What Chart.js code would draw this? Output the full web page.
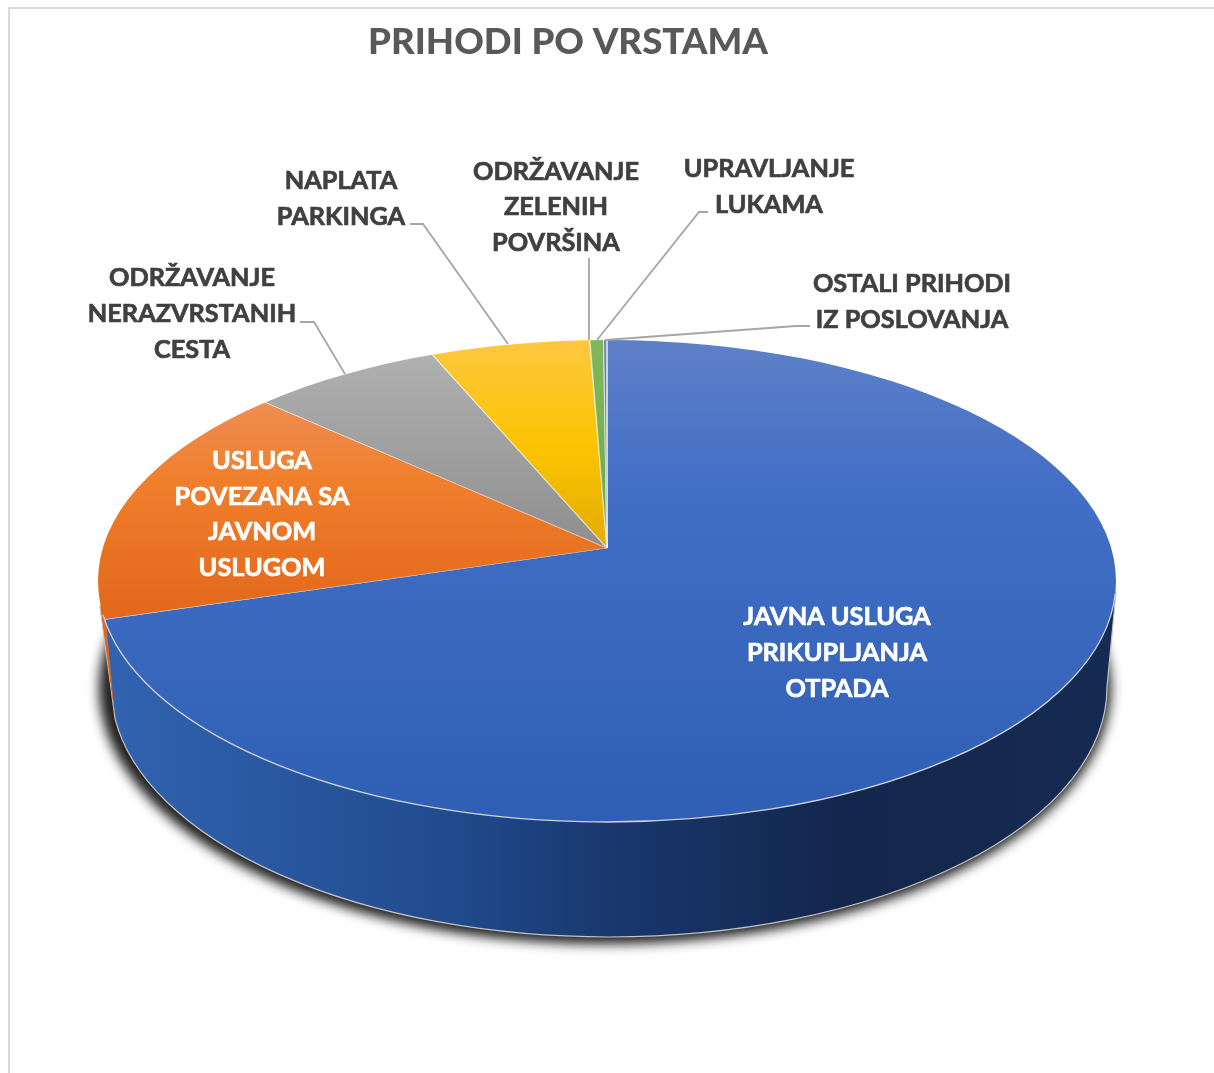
<!DOCTYPE html>
<html><head><meta charset="utf-8">
<style>html,body{margin:0;padding:0;background:#fff}canvas{display:block}</style>
<script src="https://cdn.jsdelivr.net/npm/chart.js@4"></script>
</head><body>
<canvas id="c" width="1214" height="1073"></canvas>
<script>
const titleText = 'PRIHODI PO VRSTAMA';
const categories = [
  'JAVNA USLUGA PRIKUPLJANJA OTPADA',
  'USLUGA POVEZANA SA JAVNOM USLUGOM',
  'ODRŽAVANJE NERAZVRSTANIH CESTA',
  'NAPLATA PARKINGA',
  'ODRŽAVANJE ZELENIH POVRŠINA',
  'UPRAVLJANJE LUKAMA',
  'OSTALI PRIHODI IZ POSLOVANJA'
];
const values = [70.3, 16.3, 6.9, 5.8, 0.5, 0.1, 0.02];
const labelLines = [
  ['JAVNA USLUGA','PRIKUPLJANJA','OTPADA'],
  ['USLUGA','POVEZANA SA','JAVNOM','USLUGOM'],
  ['ODRŽAVANJE','NERAZVRSTANIH','CESTA'],
  ['NAPLATA','PARKINGA'],
  ['ODRŽAVANJE','ZELENIH','POVRŠINA'],
  ['UPRAVLJANJE','LUKAMA'],
  ['OSTALI PRIHODI','IZ POSLOVANJA']
];
const sliceStops = [
  [[340,'#5f80c8'],[480,'#436fc6'],[822,'#2e5fb4']],
  [[403,'#ef8d52'],[480,'#f07f2c'],[620,'#e2671a']],
  [[355,'#b0b0b0'],[548,'#8e8e8e']],
  [[341,'#fdc740'],[445,'#fbc402'],[548,'#e2ac00']],
  [[341,'#80b75c'],[548,'#6ea844']],
  [[341,'#4a6ba8'],[548,'#264478']],
  [[341,'#3c5a94'],[548,'#1f3a68']]
];

/* Page geometry of the tilted pie */
const TOP = {x:607, y:581, rx:509, ry:241};
const BASE = {x:609, y:687, rx:498, ry:250};
const APEX = {x:607, y:548};
const SX = 1.4, SY = 1.4 * 0.473;

const labelPlace = [
  {x:837, y:[617,653,689], color:'#ffffff'},
  {x:262, y:[461,497,532,568], color:'#ffffff'},
  {x:192, y:[278,314,350], color:'#404040'},
  {x:341, y:[181,217], color:'#404040'},
  {x:556, y:[172,207,243], color:'#404040'},
  {x:769, y:[169,205], color:'#404040'},
  {x:912, y:[284,320], color:'#404040'}
];
const leaders = [
  [[300,322],[314,322],[345,374]],
  [[410,224],[423,224],[508,344]],
  [[589,258],[589,340]],
  [[708,212],[699,212],[597,340]],
  [[810,326],[796,326],[605,340]]
];

function sliceGradient(c){
  const chart = c.chart, a = chart.chartArea;
  if (!a || c.dataIndex === undefined) return '#888';
  const cy = (a.top + a.bottom) / 2;
  const stops = sliceStops[c.dataIndex];
  const y0 = stops[0][0], y1 = stops[stops.length-1][0];
  const g = chart.ctx.createLinearGradient(0, cy + (y0-APEX.y)/SY, 0, cy + (y1-APEX.y)/SY);
  stops.forEach(s => g.addColorStop((s[0]-y0)/(y1-y0), s[1]));
  return g;
}

function topEllipse(ctx){
  ctx.beginPath();
  ctx.ellipse(TOP.x, TOP.y, TOP.rx, TOP.ry, 0, 0, Math.PI*2);
}

const pie3d = {
  id:'pie3d',
  beforeDraw(chart){
    const ctx = chart.ctx;
    ctx.save();
    ctx.strokeStyle = '#d9d9d9';
    ctx.lineWidth = 2;
    ctx.beginPath();
    ctx.moveTo(9,1073); ctx.lineTo(9,8); ctx.lineTo(1214,8);
    ctx.stroke();
    ctx.restore();
  },
  beforeDatasetsDraw(chart){
    const ctx = chart.ctx, a = chart.chartArea;
    /* soft shadow of the base: the casting shape sits off the canvas */
    ctx.save();
    ctx.shadowColor = 'rgba(20,20,20,0.95)';
    ctx.shadowBlur = 12;
    ctx.shadowOffsetX = 3000;
    ctx.shadowOffsetY = 0;
    ctx.fillStyle = '#000';
    ctx.beginPath();
    ctx.ellipse(605-3000, 688, 506, 256, 0, 0, Math.PI*2);
    ctx.fill();
    ctx.restore();
    /* side wall */
    ctx.save();
    const wall = new Path2D();
    wall.moveTo(1116,592);
    wall.lineTo(BASE.x+BASE.rx, BASE.y);
    wall.ellipse(BASE.x, BASE.y, BASE.rx, BASE.ry, 0, 0, Math.PI-0.127);
    wall.lineTo(100,606);
    wall.closePath();
    const g = ctx.createLinearGradient(105,0,1110,0);
    g.addColorStop(0,'#3263b1');
    g.addColorStop(0.35,'#204a8c');
    g.addColorStop(0.5,'#19386f');
    g.addColorStop(0.74,'#13264b');
    g.addColorStop(1,'#162b52');
    ctx.fillStyle = g;
    ctx.fill(wall);
    ctx.strokeStyle = '#c4c4c4';
    ctx.lineWidth = 1.2;
    ctx.stroke(wall);
    /* orange sliver of the second slice */
    ctx.fillStyle = '#e2671a';
    ctx.beginPath();
    ctx.moveTo(100.5,606); ctx.lineTo(106,620); ctx.lineTo(115,718);
    ctx.closePath();
    ctx.fill();
    ctx.restore();
    /* tilted top face: clip to the rim, squash the library's pie */
    ctx.save();
    topEllipse(ctx);
    ctx.clip();
    const cx = (a.left+a.right)/2, cy = (a.top+a.bottom)/2;
    ctx.translate(APEX.x, APEX.y);
    ctx.scale(SX, SY);
    ctx.translate(-cx, -cy);
  },
  afterDatasetsDraw(chart){
    const ctx = chart.ctx;
    ctx.restore();
    /* rim highlight on the near side */
    ctx.save();
    ctx.strokeStyle = '#cfd3d9';
    ctx.lineWidth = 1.3;
    ctx.beginPath();
    ctx.ellipse(TOP.x, TOP.y, TOP.rx, TOP.ry, 0, 0.05, 3.0);
    ctx.stroke();
    /* leader lines */
    ctx.strokeStyle = '#a6a6a6';
    ctx.lineWidth = 1.8;
    leaders.forEach(l => {
      ctx.beginPath();
      l.forEach((p,i) => i ? ctx.lineTo(p[0],p[1]) : ctx.moveTo(p[0],p[1]));
      ctx.stroke();
    });
    /* data labels */
    ctx.font = 'bold 25.3px Lato';
    ctx.textAlign = 'center';
    ctx.textBaseline = 'middle';
    ctx.lineWidth = 0.7;
    labelLines.forEach((lines,i) => {
      const p = labelPlace[i];
      ctx.fillStyle = p.color;
      ctx.strokeStyle = p.color;
      lines.forEach((t,j) => {
        ctx.strokeText(t, p.x, p.y[j]);
        ctx.fillText(t, p.x, p.y[j]);
      });
    });
    ctx.restore();
  }
};

new Chart(document.getElementById('c'), {
  type:'pie',
  data:{labels:categories, datasets:[{
    data:values,
    backgroundColor:sliceGradient,
    borderColor:'rgba(255,255,255,0.55)',
    borderWidth:1
  }]},
  options:{
    responsive:false,
    animation:false,
    layout:{padding:{right:78}},
    plugins:{
      legend:{display:false},
      tooltip:{enabled:false},
      title:{
        display:true, text:titleText, color:'#595959', fullSize:false,
        font:{family:'Lato', size:36.6, weight:'900'},
        padding:{top:20, bottom:11}
      }
    }
  },
  plugins:[pie3d]
});
</script>
</body></html>
